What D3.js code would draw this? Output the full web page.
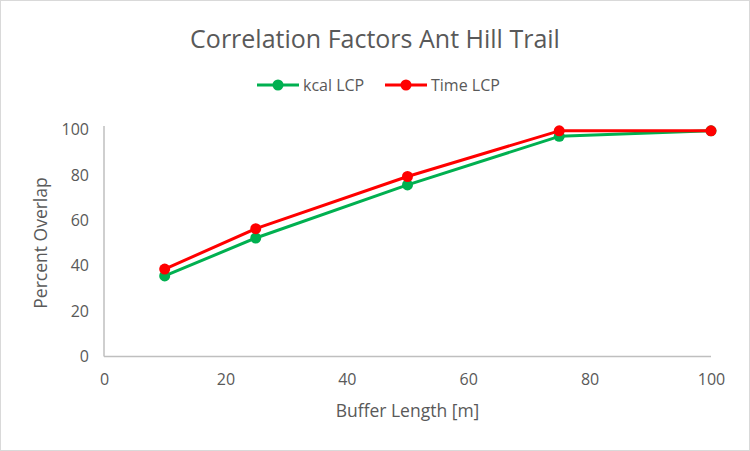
<!DOCTYPE html>
<html><head><meta charset="utf-8">
<script src="https://cdn.jsdelivr.net/npm/d3@7"></script>
<style>body{margin:0;background:#fff}svg{display:block}text{font-family:"Open Sans","Liberation Sans",sans-serif}</style>
</head><body>
<script>
const bufferLengths = [10, 25, 50, 75, 100];
const kcalLCP = [35.5, 52.2, 75.6, 97.0, 99.4];
const timeLCP = [38.5, 56.3, 79.3, 99.4, 99.4];
const xTicks = [0, 20, 40, 60, 80, 100];
const yTicks = [0, 20, 40, 60, 80, 100];
const seriesNames = ["kcal LCP", "Time LCP"];
const seriesColors = ["#00B050", "#FF0000"];

const W = 750, H = 451;
const svg = d3.select("body").append("svg").attr("width", W).attr("height", H);
svg.append("rect").attr("x",0.5).attr("y",0.5).attr("width",W-1).attr("height",H-1)
  .attr("fill","#fff").attr("stroke","#d9d9d9");

const x = d3.scaleLinear().domain([0,100]).range([104, 711]);
const y = d3.scaleLinear().domain([0,100]).range([356.5, 129.5]);

svg.append("text").attr("x", 375).attr("y", 48).attr("text-anchor","middle")
  .attr("font-size", 25).attr("fill","#595959").text("Correlation Factors Ant Hill Trail");

// axes
const xAxis = svg.append("g").attr("transform",`translate(0,${y(0)})`)
  .call(d3.axisBottom(x).tickValues(xTicks).tickSize(0).tickPadding(17));
const yAxis = svg.append("g").attr("transform",`translate(${x(0)},0)`)
  .call(d3.axisLeft(y).tickValues(yTicks).tickSize(0).tickPadding(15));
[xAxis,yAxis].forEach(g=>{
  g.select(".domain").attr("stroke","#bfbfbf").attr("stroke-width",1.5);
  g.selectAll("text").attr("font-size",16).attr("fill","#595959").attr("font-family",'"Open Sans","Liberation Sans",sans-serif');
});
xAxis.select(".domain").attr("d",`M${x(0)},0H${x(100)}`);
yAxis.select(".domain").attr("d",`M0,${y(0)}V${y(101.5)}`);

svg.append("text").attr("x", (x(0)+x(100))/2).attr("y", 417).attr("text-anchor","middle")
  .attr("font-size",17.5).attr("fill","#595959").text("Buffer Length [m]");
svg.append("text").attr("transform",`translate(47,${(y(0)+y(100))/2}) rotate(-90)`)
  .attr("text-anchor","middle").attr("font-size",17.5).attr("fill","#595959").text("Percent Overlap");

const series = [kcalLCP, timeLCP];
const line = d3.line().x((d,i)=>x(bufferLengths[i])).y(d=>y(d));
series.forEach((vals,si)=>{
  svg.append("path").datum(vals).attr("d",line).attr("fill","none")
    .attr("stroke",seriesColors[si]).attr("stroke-width",3).attr("stroke-linejoin","round");
  svg.selectAll(null).data(vals).enter().append("circle")
    .attr("cx",(d,i)=>x(bufferLengths[i])).attr("cy",d=>y(d)).attr("r",5.5)
    .attr("fill",seriesColors[si]);
});

// legend
const legX = [257, 385];
seriesNames.forEach((n,i)=>{
  const g = svg.append("g").attr("transform",`translate(${legX[i]},85)`);
  g.append("line").attr("x1",0).attr("x2",42).attr("stroke",seriesColors[i]).attr("stroke-width",3);
  g.append("circle").attr("cx",21).attr("r",5.5).attr("fill",seriesColors[i]);
  g.append("text").attr("x",46).attr("y",6).attr("font-size",16).attr("fill","#595959").text(n);
});
</script>
</body></html>
